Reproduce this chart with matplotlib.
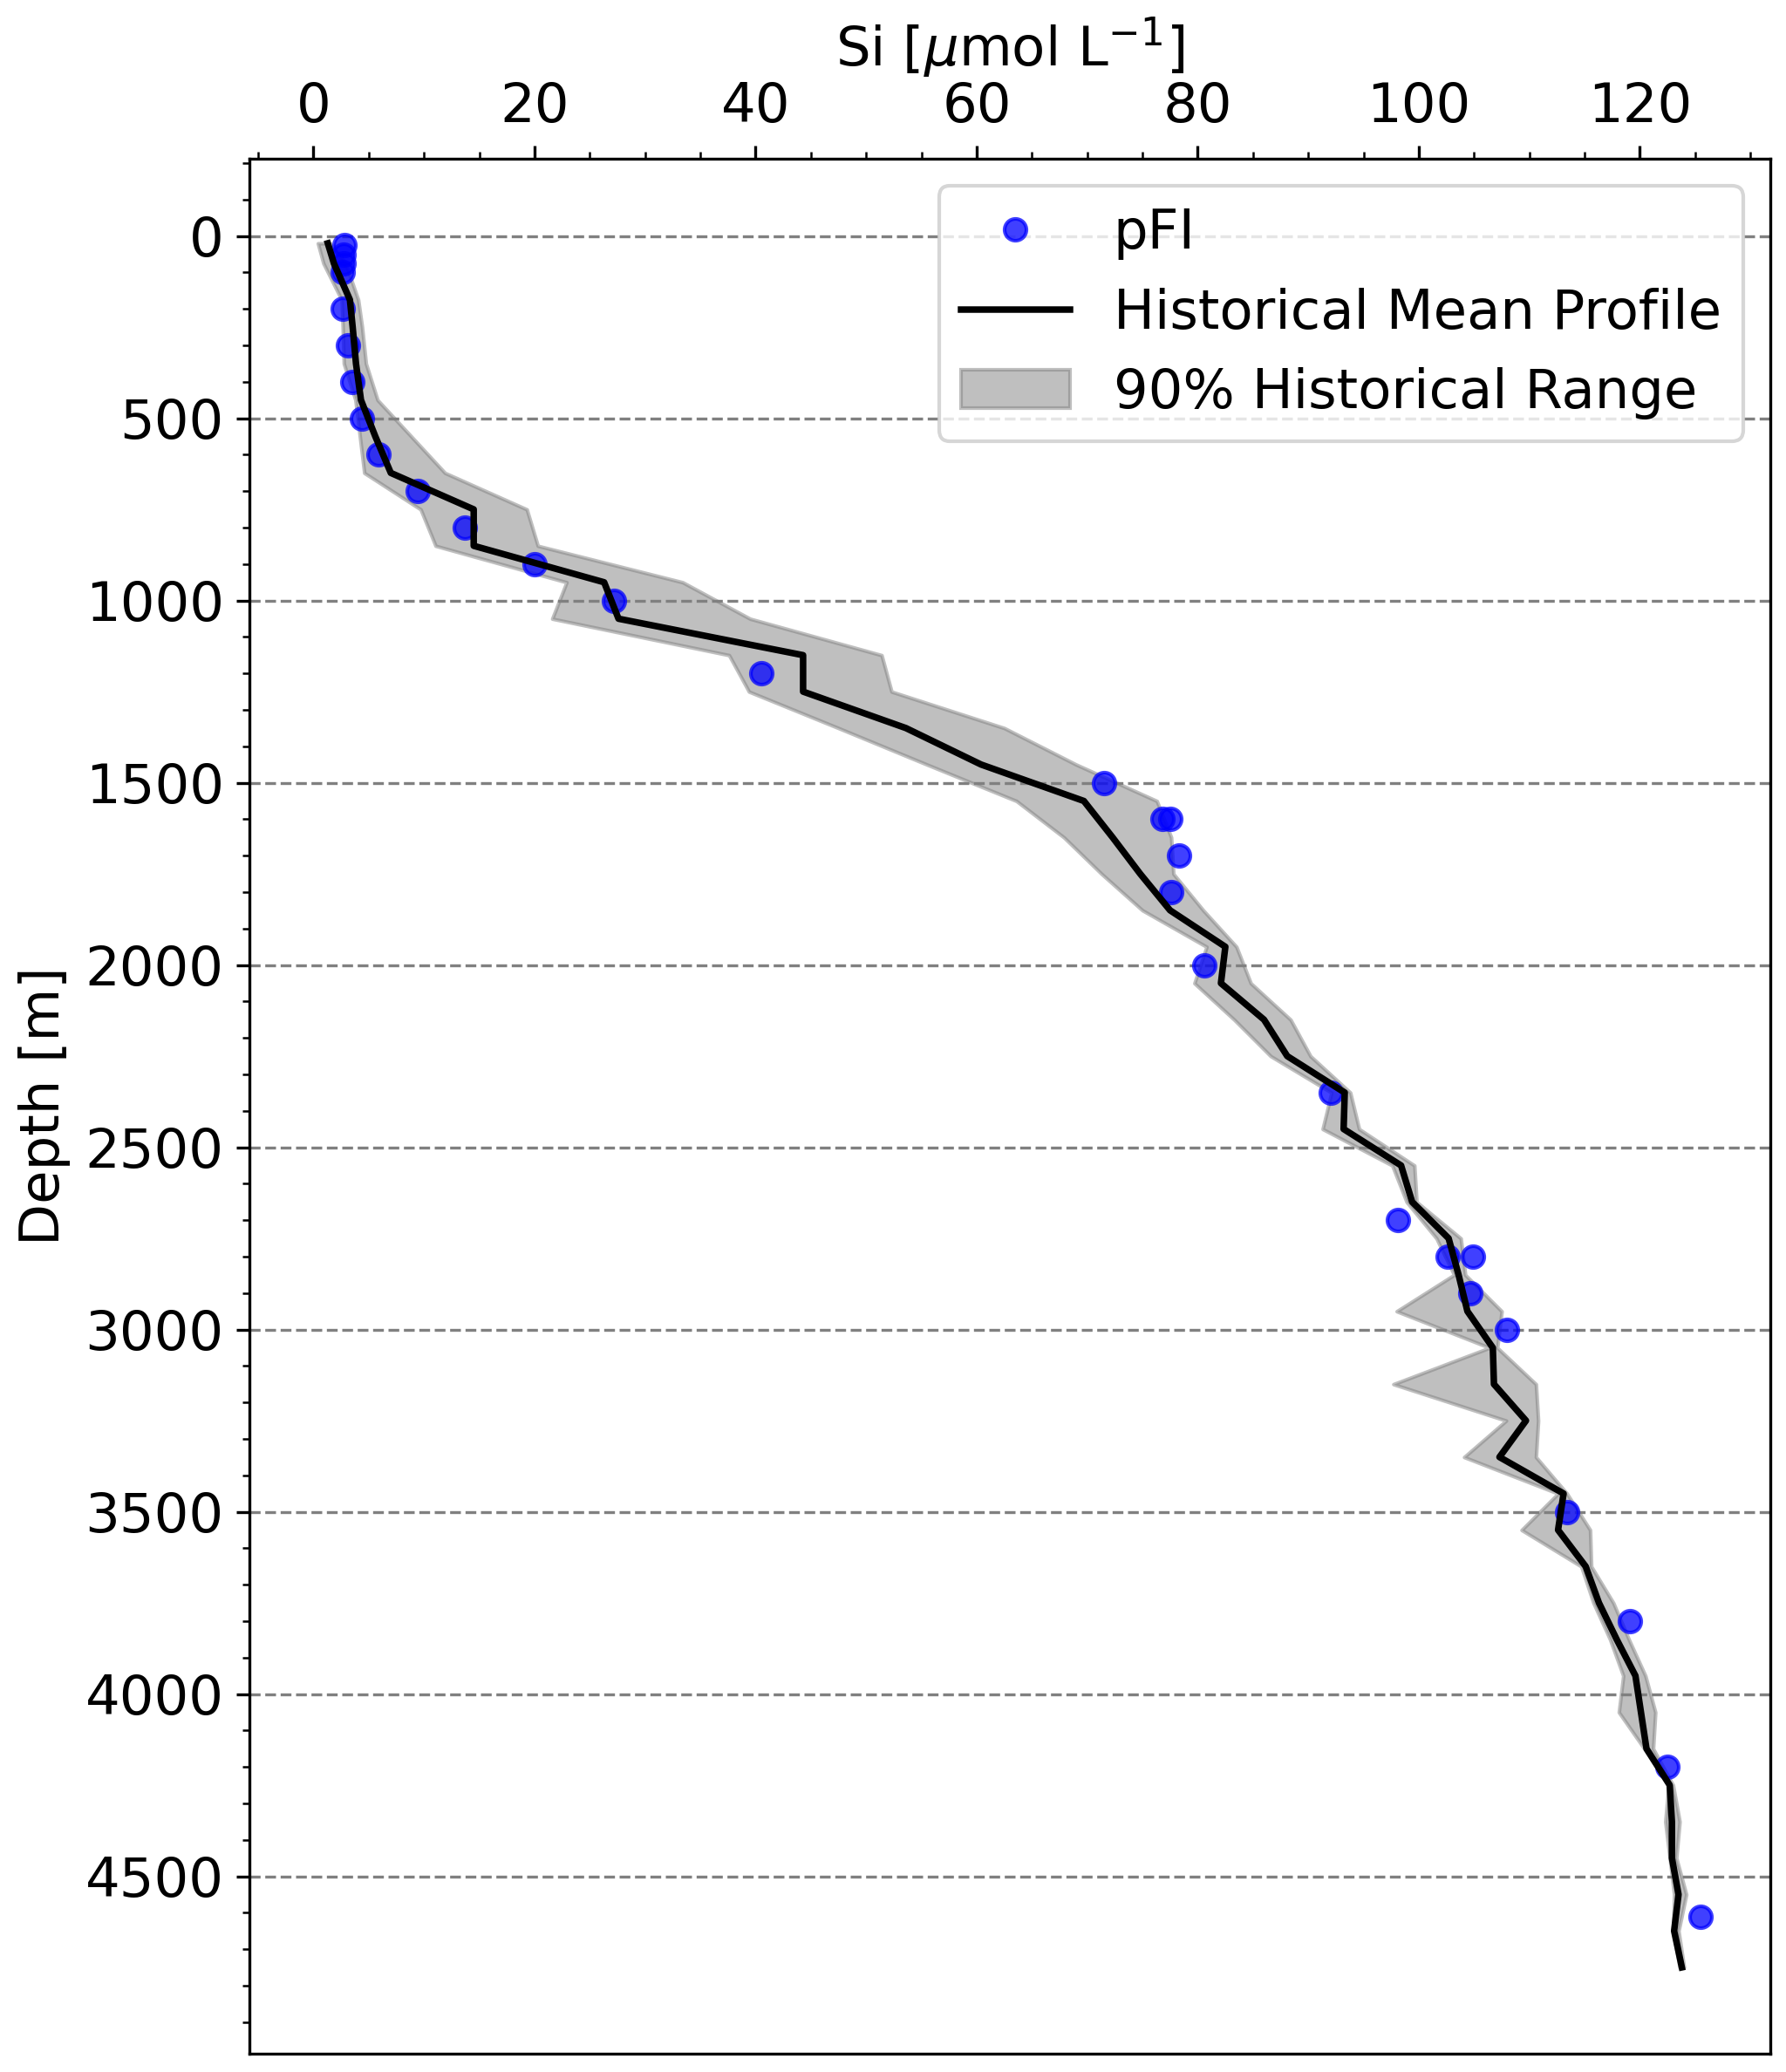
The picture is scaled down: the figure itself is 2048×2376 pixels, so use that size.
import matplotlib
matplotlib.use("Agg")
import matplotlib.pyplot as plt
from matplotlib.ticker import MultipleLocator

# pFI float samples
pfi_depth = [25, 50, 75, 100, 200, 300, 400, 500, 600, 700, 800, 900, 1000,
             1200, 1500, 1600, 1600, 1700, 1800, 2000, 2350, 2700, 2800, 2800,
             2900, 3000, 3500, 3800, 4200, 4610]
pfi_si = [2.8, 2.75, 2.7, 2.65, 2.65, 3.1, 3.55, 4.4, 5.9, 9.4, 13.7, 20.0, 27.2,
          40.5, 71.5, 76.8, 77.5, 78.3, 77.6, 80.6, 92.0, 98.1, 102.6, 104.9,
          104.7, 108.0, 113.4, 119.1, 122.5, 125.5]

# historical climatology (depth bins)
hist_depth = [20, 75, 175, 250, 350, 450, 550, 650, 750, 850, 950, 1050, 1150,
              1250, 1350, 1450, 1550, 1650, 1750, 1850, 1950, 2050, 2150, 2250,
              2350, 2450, 2550, 2650, 2750, 2850, 2950, 3050, 3150, 3250, 3350,
              3450, 3550, 3650, 3750, 3850, 3950, 4050, 4150, 4250, 4350, 4450,
              4550, 4650, 4750]
hist_mean = [1.3, 1.85, 3.3, 3.55, 3.85, 4.3, 5.6, 7.0, 14.5, 14.5, 26.3, 27.6,
             44.3, 44.3, 53.6, 60.4, 69.7, 72.3, 74.8, 77.5, 82.5, 82.1, 86.0,
             88.1, 93.3, 93.2, 98.4, 99.4, 102.7, 103.6, 104.4, 106.7, 106.8,
             109.7, 107.3, 113.1, 112.6, 115.1, 116.3, 117.9, 119.6, 120.1,
             120.6, 122.7, 122.9, 122.9, 123.5, 123.1, 123.8]
hist_low = [0.4, 0.9, 2.55, 2.65, 2.75, 3.8, 4.2, 4.6, 9.7, 11.05, 22.9, 21.6,
            37.6, 39.4, 47.5, 55.5, 63.6, 67.9, 71.3, 75.0, 80.8, 79.7, 83.3,
            86.6, 92.1, 91.3, 97.6, 98.9, 101.6, 103.2, 98.0, 106.4, 97.7,
            107.9, 104.1, 112.6, 109.3, 114.7, 115.8, 117.3, 118.5, 118.1,
            120.4, 122.6, 122.3, 122.7, 123.1, 123.0, 123.6]
hist_high = [1.5, 2.9, 4.05, 4.4, 4.75, 5.8, 8.85, 11.9, 19.3, 20.3, 33.4, 39.5,
             51.4, 52.3, 62.5, 69.0, 76.3, 77.6, 77.8, 80.5, 83.5, 84.8, 88.4,
             90.2, 93.8, 94.6, 99.6, 99.8, 103.8, 104.2, 107.5, 107.1, 110.6,
             110.8, 110.6, 113.4, 115.5, 115.6, 117.6, 119.0, 120.5, 121.4,
             121.2, 123.0, 123.6, 123.3, 124.2, 123.5, 124.0]

plt.rcParams['font.size'] = 15

fig = plt.figure(figsize=(2048 / 300, 2376 / 300), dpi=300)
ax = fig.add_axes([0.1396, 0.0088, 0.8516, 0.9146])

ax.plot(pfi_si, pfi_depth, 'o', color='blue', alpha=0.75, label='pFI')
ax.plot(hist_mean, hist_depth, color='black', lw=1.8,
        label='Historical Mean Profile')
ax.fill_betweenx(hist_depth, hist_low, hist_high, color='gray', alpha=0.5,
                 label='90% Historical Range')

ax.set_xlim(-5.8, 131.8)
ax.set_ylim(4987, -212)

ax.xaxis.tick_top()
ax.xaxis.set_label_position('top')
ax.xaxis.set_minor_locator(MultipleLocator(5))
ax.yaxis.set_major_locator(MultipleLocator(500))
ax.yaxis.set_minor_locator(MultipleLocator(100))
ax.tick_params(which='both', top=True, bottom=False, left=True, right=False)

ax.grid(axis='y', which='major', linestyle='--', color='gray', linewidth=0.8)

ax.set_xlabel(r'Si [$\mu$mol L$^{-1}$]')
ax.set_ylabel('Depth [m]')
ax.legend(loc='upper right')

fig.savefig('out.png', dpi=300)
